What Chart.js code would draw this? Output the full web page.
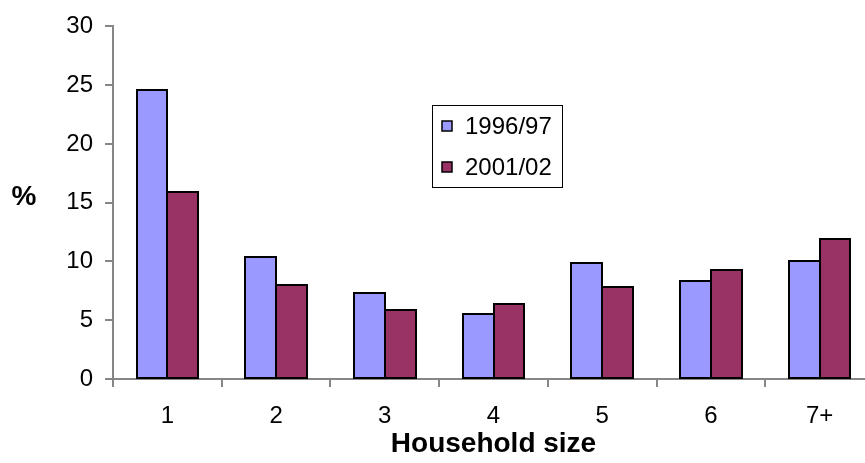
<!DOCTYPE html>
<html>
<head>
<meta charset="utf-8">
<script src="https://cdn.jsdelivr.net/npm/chart.js@4/dist/chart.umd.min.js"></script>
<style>
  html, body { margin: 0; padding: 0; background: #fff; overflow: hidden; }
  #wrap { position: relative; width: 880px; height: 463px; }
</style>
</head>
<body>
<div id="wrap"><canvas id="c" width="880" height="463"></canvas></div>
<script>
// Household size categories and share of households (%) in each survey year
const categories = ['1', '2', '3', '4', '5', '6', '7+'];
const share1996 = [24.6, 10.4, 7.3, 5.5, 9.9, 8.3, 10.0];
const share2001 = [15.9, 8.0, 5.9, 6.4, 7.8, 9.3, 11.9];
const seriesNames = ['1996/97', '2001/02'];
const yTicks = [0, 5, 10, 15, 20, 25, 30];

const FONT = "Arial, 'Liberation Sans', sans-serif";
const AXIS_GREY = '#868686';

// Crisp black outlines around every bar, taken from the laid-out bar elements
const barOutlines = {
  id: 'barOutlines',
  afterDatasetsDraw(chart) {
    const ctx = chart.ctx;
    ctx.save();
    ctx.strokeStyle = '#000';
    ctx.lineWidth = 2;
    chart.data.datasets.forEach((ds, i) => {
      chart.getDatasetMeta(i).data.forEach(bar => {
        const { x, y, base, width } = bar.getProps(['x', 'y', 'base', 'width'], true);
        const l = Math.round(x - width / 2), r = Math.round(x + width / 2);
        const t = Math.round(y), b = Math.round(base);
        ctx.strokeRect(l, t, r - l, b - t);
      });
    });
    ctx.restore();
  }
};

// Boxed legend inside the plot and the unrotated "%" axis title
const extras = {
  id: 'extras',
  afterDraw(chart) {
    const ctx = chart.ctx;
    ctx.save();
    ctx.fillStyle = '#000';
    ctx.font = 'bold 28px ' + FONT;
    ctx.textAlign = 'center';
    ctx.textBaseline = 'middle';
    ctx.fillText('%', 24, 197);

    ctx.strokeStyle = '#000';
    ctx.lineWidth = 1;
    ctx.strokeRect(432.5, 105.5, 130, 82);
    ctx.font = '24px ' + FONT;
    ctx.textAlign = 'left';
    const rows = [126, 167];
    chart.data.datasets.forEach((ds, i) => {
      const y = rows[i];
      ctx.fillStyle = ds.backgroundColor;
      ctx.fillRect(442, y - 5, 10, 10);
      ctx.strokeStyle = '#000';
      ctx.lineWidth = 1.5;
      ctx.strokeRect(442, y - 5, 10, 10);
      ctx.fillStyle = '#000';
      ctx.fillText(ds.label, 465, y + 1);
    });
    ctx.restore();
  }
};

new Chart(document.getElementById('c'), {
  type: 'bar',
  data: {
    labels: categories,
    datasets: [
      { label: seriesNames[0], data: share1996, backgroundColor: '#9999FF', borderWidth: 0 },
      { label: seriesNames[1], data: share2001, backgroundColor: '#993366', borderWidth: 0 }
    ]
  },
  options: {
    responsive: false,
    devicePixelRatio: 1,
    animation: false,
    layout: { padding: { left: 0, right: 6, top: 26, bottom: 0 } },
    datasets: { bar: { categoryPercentage: 0.567, barPercentage: 1.0 } },
    plugins: {
      legend: { display: false },
      tooltip: { enabled: false }
    },
    scales: {
      x: {
        grid: {
          display: true, offset: true, drawOnChartArea: false,
          drawTicks: true, tickLength: 8, color: AXIS_GREY, lineWidth: 2
        },
        border: { display: true, color: AXIS_GREY, width: 2 },
        ticks: { color: '#000', font: { family: FONT, size: 24 }, padding: 15, maxRotation: 0 },
        title: {
          display: true, text: 'Household size', color: '#000',
          font: { family: FONT, size: 28, weight: 'bold' },
          padding: { top: 0, bottom: 2 }
        },
        afterFit(scale) { scale.height = 84; }
      },
      y: {
        min: 0, max: 30,
        afterBuildTicks(scale) { scale.ticks = yTicks.map(v => ({ value: v })); },
        grid: {
          display: true, drawOnChartArea: false, drawTicks: true,
          tickLength: 8, color: AXIS_GREY, lineWidth: 2
        },
        border: { display: true, color: AXIS_GREY, width: 2 },
        ticks: { color: '#000', font: { family: FONT, size: 24 }, padding: 12 },
        afterFit(scale) { scale.width = 113; }
      }
    }
  },
  plugins: [barOutlines, extras]
});
</script>
</body>
</html>
